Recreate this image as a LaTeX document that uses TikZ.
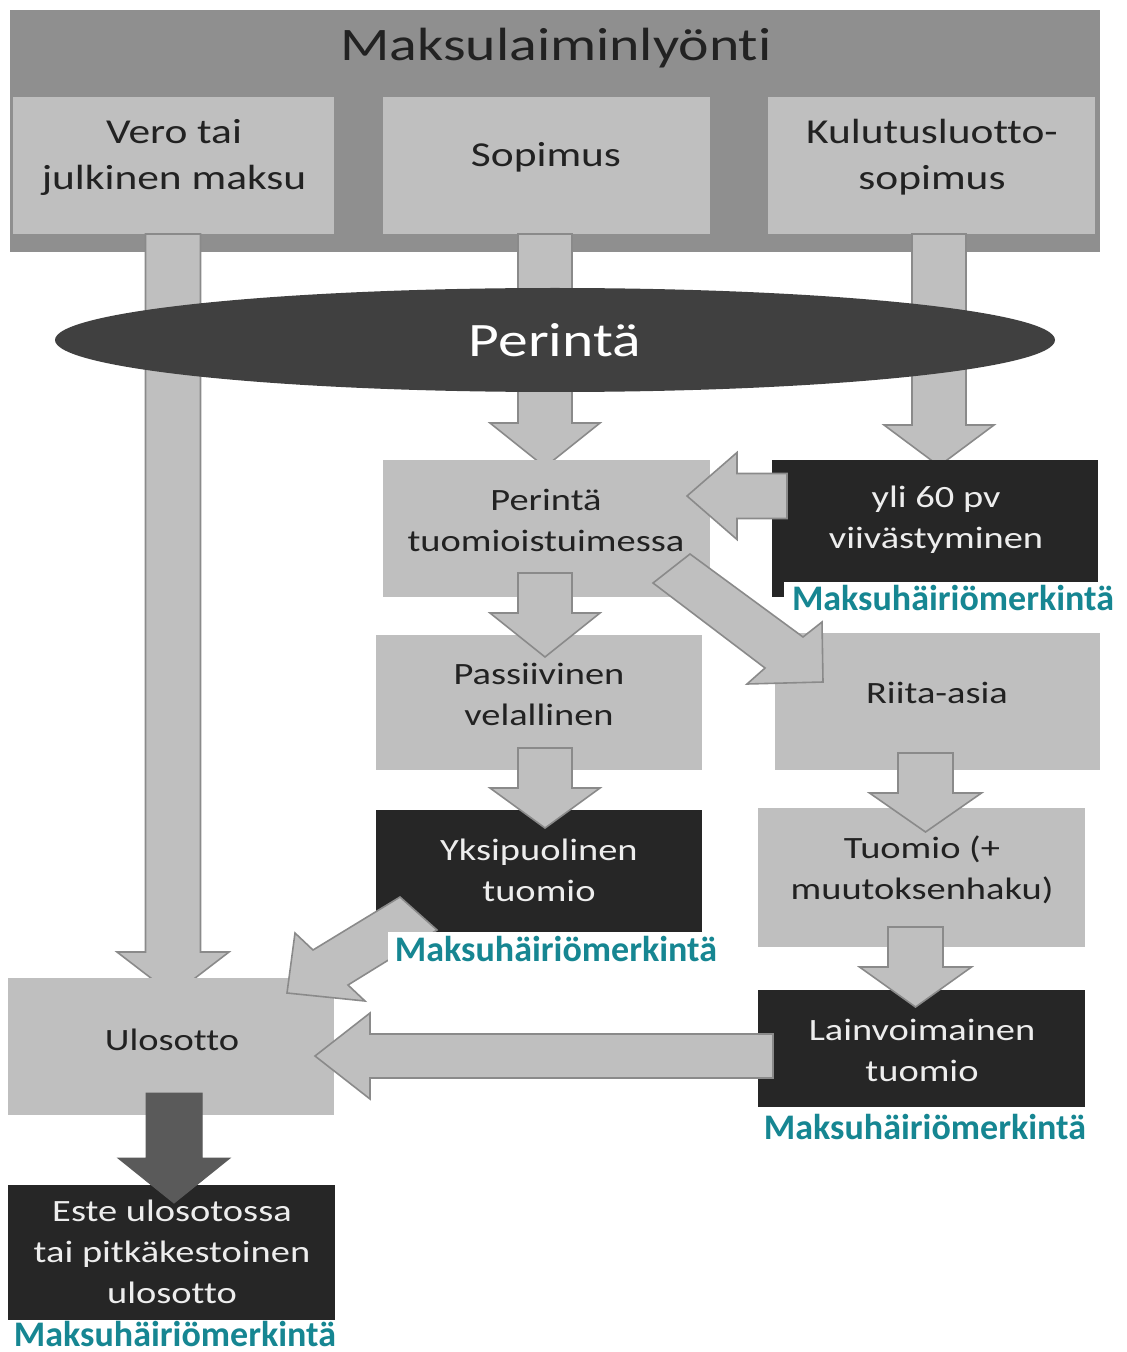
\documentclass[tikz,border=0pt]{standalone}
\usepackage{fontspec}
\setmainfont{Carlito}[FakeStretch=1.24, Ligatures={NoCommon,NoRare,NoContextual}]
\newfontfamily\labfont{Carlito}[Ligatures={NoCommon,NoRare,NoContextual}]
\usetikzlibrary{shapes.geometric,calc}
\definecolor{framegray}{HTML}{8F8F8F}
\definecolor{boxgray}{HTML}{BFBFBF}
\definecolor{boxblack}{HTML}{262626}
\definecolor{ellgray}{HTML}{404040}
\definecolor{arrgray}{HTML}{BFBFBF}
\definecolor{arrline}{HTML}{8A8A8A}
\definecolor{arrdark}{HTML}{5A5A5A}
\definecolor{txtdark}{HTML}{222222}
\definecolor{txtlight}{HTML}{EDEDED}
\definecolor{tealmark}{RGB}{22,134,146}
\tikzset{
  base/.style={rectangle, inner sep=0pt, outer sep=0pt},
  framebox/.style={base, fill=framegray},
  lbox/.style={base, fill=boxgray},
  dbox/.style={base, fill=boxblack},
  toptext/.style={text=txtdark, align=center, font=\fontsize{17.5}{23}\selectfont},
  rowtext/.style={text=txtdark, align=center, font=\fontsize{15.5}{20.5}\selectfont},
  rowtextw/.style={rowtext, text=txtlight},
  blockarr/.style={fill=arrgray, draw=arrline, line width=0.8pt, line join=miter},
  blockarrdark/.style={fill=arrdark, draw=arrdark, line width=0.5pt},
  mhm/.style={base, fill=white, text=tealmark, font=\labfont\bfseries\fontsize{18}{20}\selectfont}
}
% box node: style, name, x1, y1, x2, y2 (pixel units)
\newcommand\bx[6]{\node[#1, minimum width={(#5-#3)*0.5pt}, minimum height={(#6-#4)*0.5pt}] (#2) at ({(#3+#5)/2},{(#4+#6)/2}) {};}
% vertical block arrow: x, ytop, ybase, ytip, shaft half, head half, style
\newcommand\varr[7]{\draw[#7] (#1-#5,#2) -- (#1-#5,#3) -- (#1-#6,#3) -- (#1,#4) -- (#1+#6,#3) -- (#1+#5,#3) -- (#1+#5,#2) -- cycle;}
% horizontal (leftward) block arrow: y, xstart, xbase, xtip, shaft half, head half, style
\newcommand\harr[7]{\draw[#7] (#2,#1-#5) -- (#3,#1-#5) -- (#3,#1-#6) -- (#4,#1) -- (#3,#1+#6) -- (#3,#1+#5) -- (#2,#1+#5) -- cycle;}
\begin{document}
\begin{tikzpicture}[x=0.5pt,y=-0.5pt]
\useasboundingbox (0,0) rectangle (1126,1352);
% top frame
\bx{framebox}{frame}{10}{10}{1100}{252}
\node[text=txtdark, font=\fontsize{23.3}{28}\selectfont] (title) at (556,48) {Maksulaiminlyönti};
\bx{lbox}{vero}{13}{97}{334}{234}
\bx{lbox}{sopimus}{383}{97}{710}{234}
\bx{lbox}{kulutus}{768}{97}{1095}{234}
\node[toptext] (verot) at (174,157) {Vero tai\\julkinen maksu};
\node[toptext] (sopimust) at (546,157) {Sopimus};
\node[toptext] (kulutust) at (932,157) {Kulutusluotto-\\sopimus};
% long arrows from the top boxes
\varr{173}{234}{952}{995}{27.5}{56}{blockarr}
\varr{545}{234}{423}{467}{27}{55}{blockarr}
\varr{939}{234}{425}{466}{27}{55}{blockarr}
% ellipse
\node[ellipse, fill=ellgray, minimum width=500pt, minimum height=52pt, inner sep=0pt,
      text=white, font=\fontsize{24}{28}\selectfont] (perinta) at (555,340) {Perintä};
% boxes
\bx{lbox}{tuomiois}{383}{460}{710}{597}
\bx{dbox}{yli}{772}{460}{1098}{597}
\bx{lbox}{passiivi}{376}{635}{702}{770}
\bx{lbox}{riita}{775}{633}{1100}{770}
\bx{dbox}{yksi}{376}{810}{702}{945}
\bx{lbox}{tuomio}{758}{808}{1085}{947}
\bx{dbox}{lainv}{758}{990}{1085}{1107}
\bx{lbox}{ulosotto}{8}{978}{334}{1115}
\bx{dbox}{este}{8}{1185}{335}{1320}
\node[rowtext] (tuomioist) at (546,520) {Perintä\\tuomioistuimessa};
\node[rowtextw] (ylit) at (936,520) {yli 60 pv\\viivästyminen};
\node[rowtext] (passiivit) at (539,694) {Passiivinen\\velallinen};
\node[rowtext] (riitat) at (937,693) {Riita-asia};
\node[rowtextw] (yksit) at (539,870) {Yksipuolinen\\tuomio};
\node[rowtext] (tuomiot) at (922,870) {Tuomio (+\\muutoksenhaku)};
\node[rowtextw] (lainvt) at (922,1050) {Lainvoimainen\\tuomio};
\node[rowtext] (ulosottot) at (172,1040) {Ulosotto};
\node[rowtextw] (estet) at (172,1252) {Este ulosotossa\\tai pitkäkestoinen\\ulosotto};
% connecting block arrows
\harr{496}{787}{737}{687}{22.5}{43.5}{blockarr}
\varr{545}{573}{613}{657}{27}{55}{blockarr}
\varr{545}{748}{788}{828}{27}{55}{blockarr}
\varr{925.5}{753}{793}{832}{27.5}{56}{blockarr}
\varr{915.5}{927}{967}{1007}{27.5}{56}{blockarr}
\harr{1056}{773}{370}{315}{22}{43}{blockarr}
\varr{174}{1093}{1158}{1203}{28}{56}{blockarrdark}
\draw[blockarr] (690,554) -- (803,637) -- (822,622) -- (823,682) -- (747,684) -- (765,668) -- (653,583) -- cycle;
\draw[blockarr] (400,897) -- (313,950) -- (295,933) -- (287,993) -- (365,1001) -- (348,985) -- (437,930) -- cycle;
% markings
\node[mhm, minimum width=169pt, minimum height=16.5pt] (m1) at (953,598) {Maksuhäiriömerkintä};
\node[mhm, minimum width=168pt, minimum height=17pt] (m2) at (556,949) {Maksuhäiriömerkintä};
\node[mhm] (m3) at (925,1127) {Maksuhäiriömerkintä};
\node[mhm] (m4) at (175,1334) {Maksuhäiriömerkintä};
\end{tikzpicture}
\end{document}
